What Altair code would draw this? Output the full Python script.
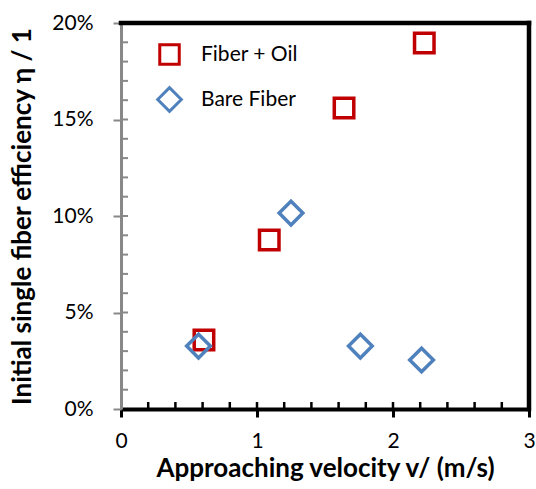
import altair as alt
import pandas as pd

# data
oil_v = [0.61, 1.09, 1.64, 2.23]
oil_eta = [0.0357, 0.0876, 0.156, 0.1896]
bare_v = [0.57, 1.25, 1.76, 2.21]
bare_eta = [0.0326, 0.1015, 0.0326, 0.0254]
series_names = ["Fiber + Oil", "Bare Fiber"]
series_colors = ["#C00000", "#4F81BD"]
series_shapes = ["square", "diamond"]
series_sizes = [380, 560]

x_major = [0, 1, 2, 3]
x_minor = [0.2, 0.4, 0.6, 0.8, 1.0, 1.2, 1.4, 1.6, 1.8, 2.0, 2.2, 2.4, 2.6, 2.8]
y_major = [0, 0.05, 0.10, 0.15, 0.20]
y_minor = [0.01, 0.02, 0.03, 0.04, 0.05, 0.06, 0.07, 0.08, 0.09, 0.10,
           0.11, 0.12, 0.13, 0.14, 0.15, 0.16, 0.17, 0.18, 0.19]

W, H = 408, 386
FONT = "Lato"

df = pd.DataFrame({
    "v": oil_v + bare_v,
    "eta": oil_eta + bare_eta,
    "series": [series_names[0]] * len(oil_v) + [series_names[1]] * len(bare_v),
})

xs = alt.Scale(domain=[0, 3], nice=False, zero=False)
ys = alt.Scale(domain=[0, 0.2], nice=False, zero=False)

x_axis = alt.Axis(
    values=x_major, format="d", title="Approaching velocity v/ (m/s)",
    domainColor="black", domainWidth=4, tickColor="black", tickWidth=3, tickSize=8,
    labelPadding=13, titlePadding=4, labelFlush=False, grid=False)
y_axis = alt.Axis(
    values=y_major, format=".0%", title="Initial single fiber efficiency η / 1",
    domainColor="#888888", domainWidth=3, tickColor="#888888", tickWidth=2, tickSize=8,
    labelPadding=20, titlePadding=16, labelFlush=False, grid=False)

points = alt.Chart(df).mark_point(filled=False, strokeWidth=3.5, opacity=1).encode(
    x=alt.X("v:Q", scale=xs, axis=x_axis),
    y=alt.Y("eta:Q", scale=ys, axis=y_axis),
    color=alt.Color("series:N", scale=alt.Scale(domain=series_names, range=series_colors),
                    legend=alt.Legend(title=None, orient="none", legendX=35, legendY=20,
                                      symbolSize=190, symbolStrokeWidth=3,
                                      labelFontSize=21, labelFont=FONT, labelColor="black",
                                      labelOffset=18, rowPadding=10, padding=0)),
    shape=alt.Shape("series:N", scale=alt.Scale(domain=series_names, range=series_shapes)),
    size=alt.Size("series:N", scale=alt.Scale(domain=series_names, range=series_sizes), legend=None),
)

xin = alt.Chart(pd.DataFrame({"v": x_minor})).mark_rule(color="black", strokeWidth=2.5).encode(
    x=alt.X("v:Q", scale=xs, axis=x_axis), y=alt.value(H), y2=alt.value(H - 7))
yin = alt.Chart(pd.DataFrame({"eta": y_minor})).mark_rule(color="#888888", strokeWidth=2).encode(
    y=alt.Y("eta:Q", scale=ys, axis=y_axis), x=alt.value(0), x2=alt.value(7))
top = alt.Chart(pd.DataFrame({"a": [0]})).mark_rule(color="black", strokeWidth=4.5, strokeCap="square").encode(
    x=alt.value(0), x2=alt.value(W), y=alt.value(0))
right = alt.Chart(pd.DataFrame({"a": [0]})).mark_rule(color="black", strokeWidth=4.5, strokeCap="square").encode(
    x=alt.value(W), y=alt.value(0), y2=alt.value(H))

chart = alt.layer(points, xin, yin, top, right).properties(
    width=W, height=H,
    autosize=alt.AutoSizeParams(type="none"),
    padding={"left": 121, "top": 23, "right": 7, "bottom": 80},
    background="white",
).configure_view(stroke=None).configure_axis(
    labelFont=FONT, labelFontSize=21, labelColor="black",
    titleFont=FONT, titleFontSize=26, titleFontWeight="bold", titleColor="black",
)

chart.save("out.html", embed_options={"renderer": "svg", "actions": False})
